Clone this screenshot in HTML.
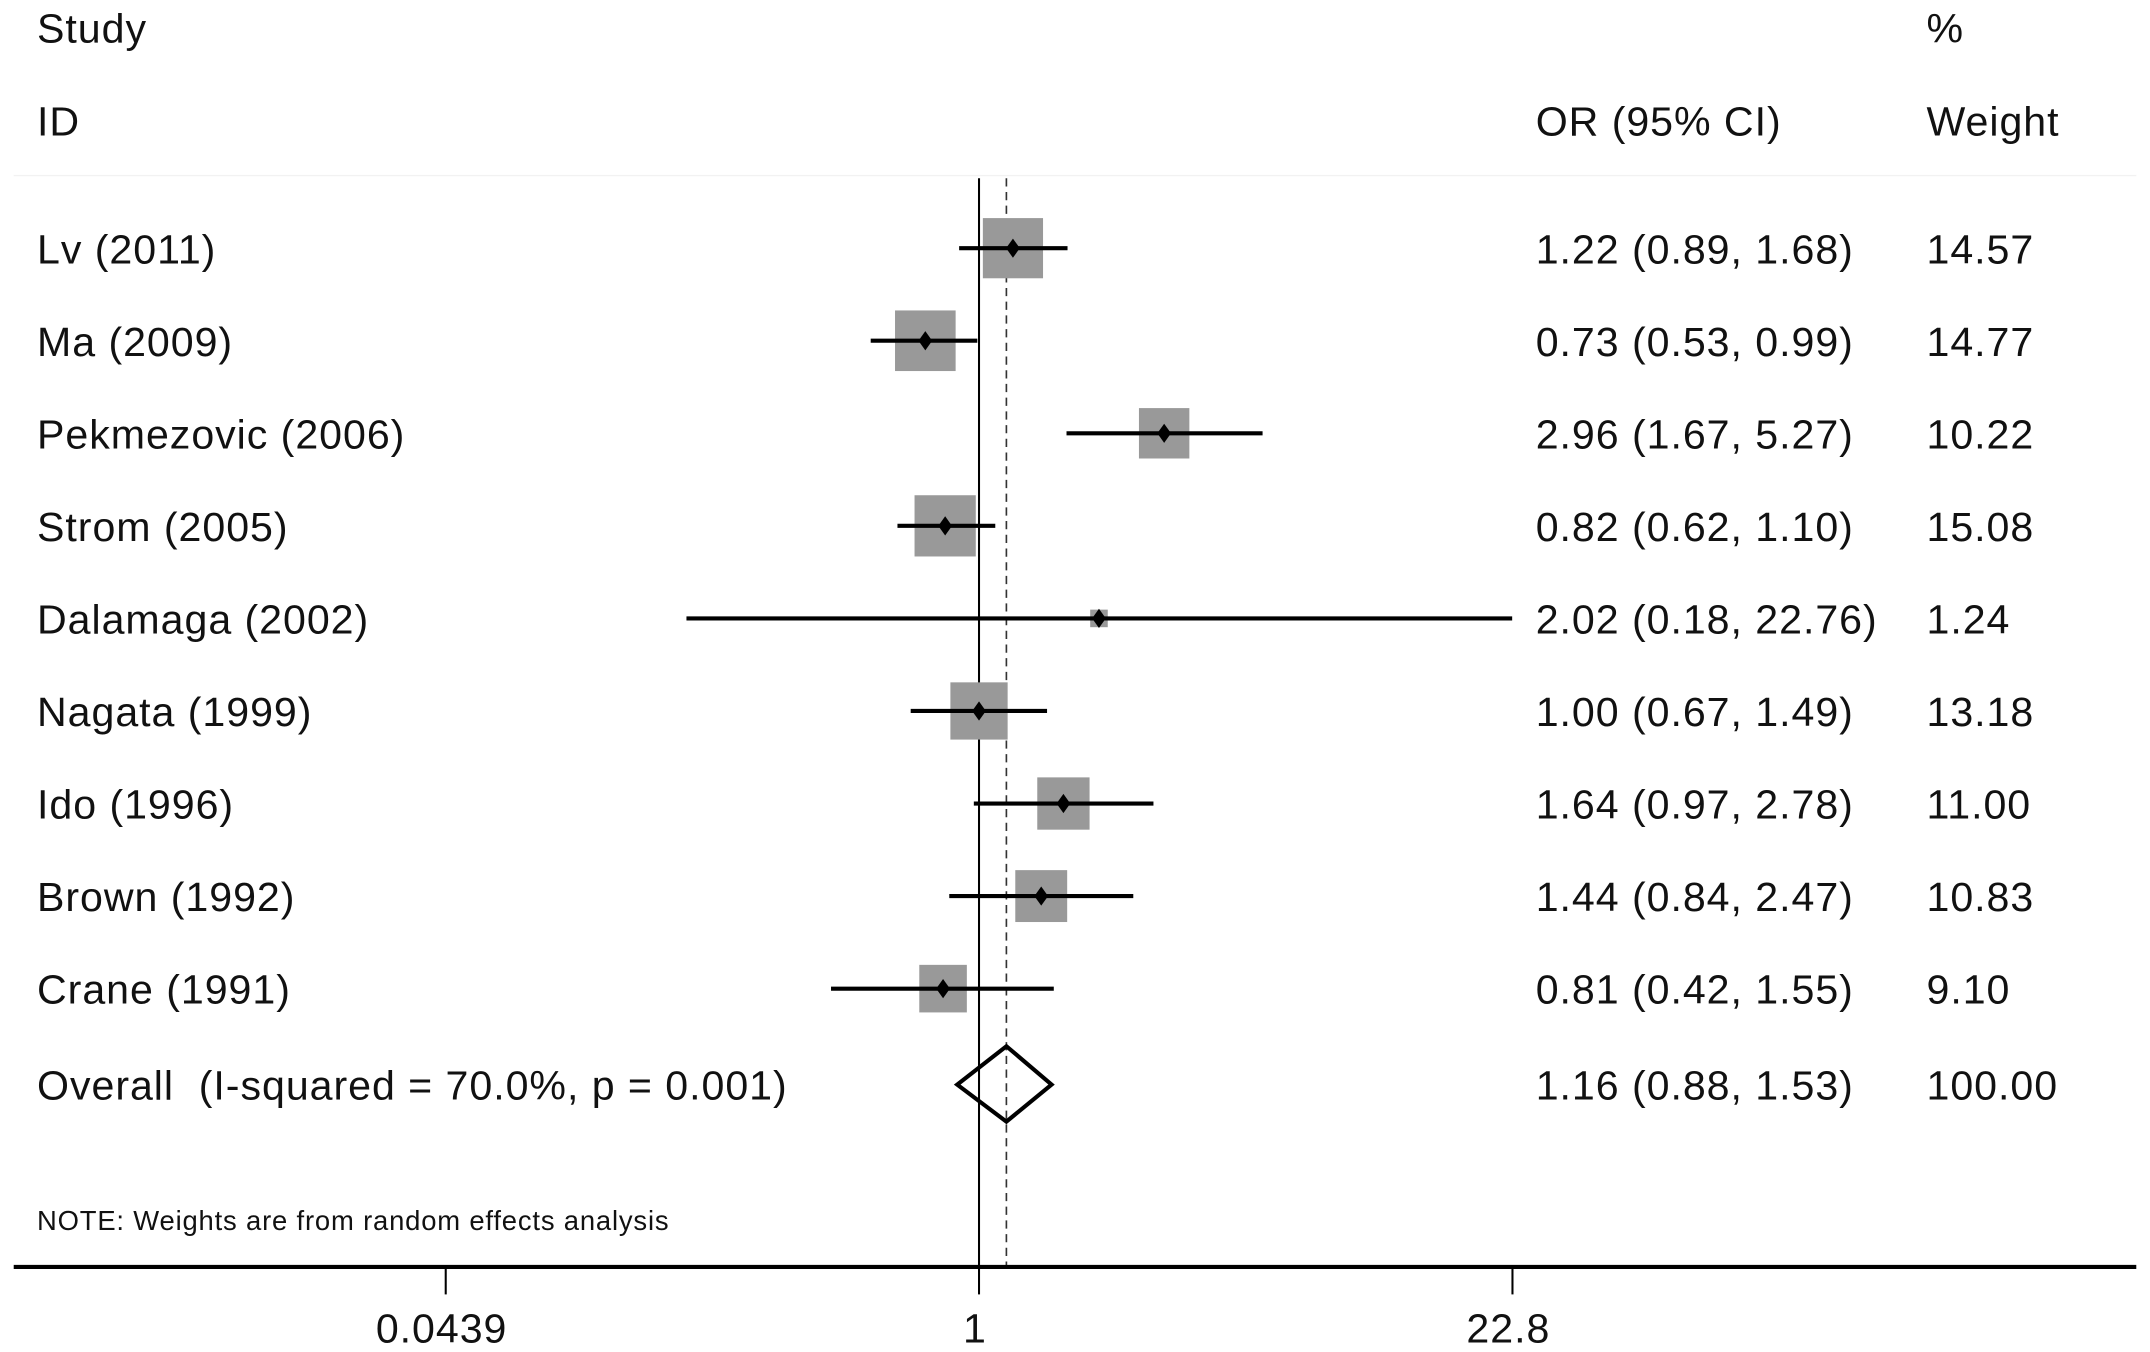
<!DOCTYPE html>
<html><head><meta charset="utf-8"><style>
html,body{margin:0;padding:0;background:#fff;}
svg{display:block;}
text{font-family:"Liberation Sans",Arial,sans-serif;fill:#111;white-space:pre;}
</style></head><body>
<svg id="chart" width="2150" height="1352" viewBox="0 0 1568 986" preserveAspectRatio="none" xmlns="http://www.w3.org/2000/svg">
<text x="27" y="31" font-size="30" letter-spacing="0.7">Study</text>
<text x="27" y="99" font-size="30" letter-spacing="0.7">ID</text>
<text x="1405" y="31" font-size="30" letter-spacing="0.7">%</text>
<text x="1120" y="99" font-size="30" letter-spacing="0.7">OR (95% CI)</text>
<text x="1405" y="99" font-size="30" letter-spacing="0.7">Weight</text>
<line x1="10" y1="128" x2="1558" y2="128" stroke="#f2f2f2" stroke-width="1"/>
<g id="plot"></g>
<text x="27" y="897" font-size="20" letter-spacing="0.6">NOTE: Weights are from random effects analysis</text>
</svg>
<script>
const studies = ["Lv (2011)","Ma (2009)","Pekmezovic (2006)","Strom (2005)","Dalamaga (2002)","Nagata (1999)","Ido (1996)","Brown (1992)","Crane (1991)"];
const orValues = [1.22,0.73,2.96,0.82,2.02,1.00,1.64,1.44,0.81];
const ciLow = [0.89,0.53,1.67,0.62,0.18,0.67,0.97,0.84,0.42];
const ciHigh = [1.68,0.99,5.27,1.10,22.76,1.49,2.78,2.47,1.55];
const weights = [14.57,14.77,10.22,15.08,1.24,13.18,11.00,10.83,9.10];
const ciLabels = ["1.22 (0.89, 1.68)","0.73 (0.53, 0.99)","2.96 (1.67, 5.27)","0.82 (0.62, 1.10)","2.02 (0.18, 22.76)","1.00 (0.67, 1.49)","1.64 (0.97, 2.78)","1.44 (0.84, 2.47)","0.81 (0.42, 1.55)"];
const weightLabels = ["14.57","14.77","10.22","15.08","1.24","13.18","11.00","10.83","9.10"];
const overall = [1.16,0.88,1.53];
const overallLabel = "Overall  (I-squared = 70.0%, p = 0.001)";
const overallCi = "1.16 (0.88, 1.53)";
const overallWeight = "100.00";
const tickValues = [0.0439,1,22.8];
const tickLabels = ["0.0439","1","22.8"];

const NS="http://www.w3.org/2000/svg";
const g=document.getElementById('plot');
const x = v => 714 + Math.log10(v)*286.5;
const rowY = i => 181 + i*67.5;
const overallY = 791;
const axisY = 924;
const FS = 30, LS = 0.7;
function mk(tag, attrs){const e=document.createElementNS(NS,tag);for(const k in attrs)e.setAttribute(k,attrs[k]);g.appendChild(e);return e;}

let e;
e=mk('line',{x1:x(1),y1:130,x2:x(1),y2:axisY,stroke:'#000','stroke-width':1.5});


e=mk('line',{x1:x(overall[0])+1.5,y1:130,x2:x(overall[0])+1.5,y2:axisY,stroke:'#333','stroke-width':1.2,'stroke-dasharray':'6,4'});



studies.forEach((s,i)=>{
  const y=rowY(i);
  let t=mk('text',{x:27,y:y+11,'font-size':FS,'letter-spacing':LS}); t.textContent=s;
  
  
  const side=11.5*Math.sqrt(weights[i]);
  let r=mk('rect',{x:x(orValues[i])-side/2,y:y-side/2,width:side,height:side,fill:'#999'});
  
  
  let l=mk('line',{x1:x(ciLow[i]),y1:y,x2:x(ciHigh[i]),y2:y,stroke:'#000','stroke-width':3});
  
  
  const cx=x(orValues[i]);
  let p=mk('polygon',{points:`${cx},${y-7} ${cx+5},${y} ${cx},${y+7} ${cx-5},${y}`,fill:'#000'});
  
  
  let c=mk('text',{x:1120,y:y+11,'font-size':FS,'letter-spacing':LS}); c.textContent=ciLabels[i];
  
  
  let w=mk('text',{x:1405,y:y+11,'font-size':FS,'letter-spacing':LS}); w.textContent=weightLabels[i];
  
  
});

e=mk('text',{x:27,y:overallY+11,'font-size':FS,'letter-spacing':LS}); e.textContent=overallLabel;


const oc=x(overall[0])+1.5;
e=mk('polygon',{points:`${x(overall[1])},${overallY} ${oc},${overallY-28} ${x(overall[2])},${overallY} ${oc},${overallY+27}`,fill:'none',stroke:'#000','stroke-width':3});


e=mk('text',{x:1120,y:overallY+11,'font-size':FS,'letter-spacing':LS}); e.textContent=overallCi;


e=mk('text',{x:1405,y:overallY+11,'font-size':FS,'letter-spacing':LS}); e.textContent=overallWeight;



e=mk('line',{x1:10,y1:axisY,x2:1558,y2:axisY,stroke:'#000','stroke-width':3});


tickValues.forEach((v,i)=>{
  let tk=mk('line',{x1:x(v),y1:axisY,x2:x(v),y2:axisY+20,stroke:'#000','stroke-width':1.5});
  
  
  let tl=mk('text',{x:x(v)-3,y:axisY+55,'font-size':FS,'letter-spacing':LS,'text-anchor':'middle'}); tl.textContent=tickLabels[i];
  
  
});
</script>
</body></html>
